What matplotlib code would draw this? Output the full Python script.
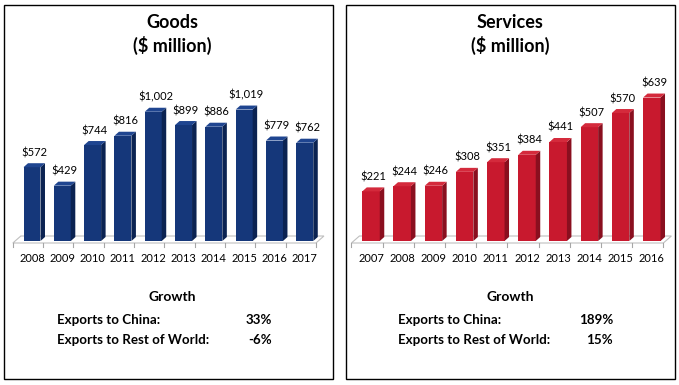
import matplotlib.pyplot as plt
from matplotlib.patches import Polygon, Rectangle

plt.rcParams["font.family"] = ["Lato", "DejaVu Sans"]

W, H = 679, 385

goods_years = ["2008", "2009", "2010", "2011", "2012", "2013", "2014", "2015", "2016", "2017"]
goods_vals = [572, 429, 744, 816, 1002, 899, 886, 1019, 779, 762]
serv_years = ["2007", "2008", "2009", "2010", "2011", "2012", "2013", "2014", "2015", "2016"]
serv_vals = [221, 244, 246, 308, 351, 384, 441, 507, 570, 639]

growth_labels = ["Exports to China:", "Exports to Rest of World:"]
goods_growth = ["33%", "-6%"]
serv_growth = ["189%", "15%"]


def fx(px):
    return px / W


def fy(py):
    return 1 - py / H


def panel(ax, years, vals, ytop, front, side, top, xlim):
    n = len(vals)
    ax.set_xlim(*xlim)
    ax.set_ylim(0, ytop)
    for s in ax.spines.values():
        s.set_visible(False)
    ax.set_yticks([])
    ax.set_xticks(range(n), labels=years)
    ax.tick_params(axis="x", length=0, pad=9, labelsize=8)

    # pixel -> data unit conversion for the 3-D depth
    pos = ax.get_position()
    upx = (xlim[1] - xlim[0]) / (pos.width * W)
    upy = ytop / (pos.height * H)
    ddx, ddy = 4.5 * upx, 4 * upy

    # floor
    fl, fr = -0.5 - 4 * upx, n - 0.5 - 4 * upx
    f0, f1 = -2 * upy, 5 * upy
    floor = Polygon([(fl, f0), (fr, f0), (fr + 8 * upx, f1), (fl + 8 * upx, f1)],
                    closed=True, fc="white", ec="#BFBFBF", lw=0.8,
                    clip_on=False, zorder=1)
    ax.add_patch(floor)
    for i in range(n + 1):
        xb = i - 0.5 - 4 * upx
        ax.plot([xb, xb], [f0, f0 - 4 * upy], color="#A6A6A6", lw=0.8,
                clip_on=False, zorder=1)

    bw = 0.56
    bars = ax.bar(range(n), vals, width=bw, color=front, lw=0, zorder=2, clip_on=False)
    for b, v in zip(bars, vals):
        x0 = b.get_x()
        x1 = x0 + bw
        ax.add_patch(Polygon([(x1, 0), (x1, v), (x1 + ddx, v + ddy), (x1 + ddx, ddy)],
                             closed=True, fc=side, ec="none", zorder=2, clip_on=False))
        ax.add_patch(Polygon([(x0, v), (x1, v), (x1 + ddx, v + ddy), (x0 + ddx, v + ddy)],
                             closed=True, fc=top, ec="none", zorder=2, clip_on=False))
        ax.annotate(f"${v:,}", (x0 + (bw + ddx) / 2, v + ddy), xytext=(0, 5),
                    textcoords="offset pixels", ha="center", va="bottom",
                    fontsize=8)


fig = plt.figure(figsize=(W / 100, H / 100), dpi=100)

# panel frames
for x0, x1 in [(4, 333), (346, 675)]:
    fig.add_artist(Rectangle((fx(x0), fy(379)), fx(x1 - x0), (379 - 5) / H,
                             transform=fig.transFigure, fill=False, ec="black", lw=1))

# goods
ax1 = fig.add_axes([fx(12.3), fy(241), fx(326 - 12.3), (241 - 60) / H])
panel(ax1, goods_years, goods_vals, 181 / 0.129, "#15377A", "#0B2352", "#1F4590",
      (-0.65, 9.7))
# services
ax2 = fig.add_axes([fx(352.3), fy(241), fx(670.5 - 352.3), (241 - 60) / H])
panel(ax2, serv_years, serv_vals, 181 / 0.2245, "#C8192E", "#8A0F1F", "#D42A3C",
      (-0.6, 9.6))

for cx, title, lx, rx, vals in [(172, "Goods", 57, 272, goods_growth),
                                (510, "Services", 398, 613, serv_growth)]:
    fig.text(fx(cx), fy(22), title, ha="center", va="center", fontsize=13, fontweight="bold")
    fig.text(fx(cx), fy(45), "($ million)", ha="center", va="center", fontsize=13,
             fontweight="bold")
    fig.text(fx(cx), fy(297), "Growth", ha="center", va="center", fontsize=10,
             fontweight="bold")
    for i, (lab, v) in enumerate(zip(growth_labels, vals)):
        fig.text(fx(lx), fy(320 + 20 * i), lab, ha="left", va="center", fontsize=9.6,
                 fontweight="bold")
        fig.text(fx(rx), fy(320 + 20 * i), v, ha="right", va="center", fontsize=9.6,
                 fontweight="bold")

fig.savefig("out.png", dpi=100)
